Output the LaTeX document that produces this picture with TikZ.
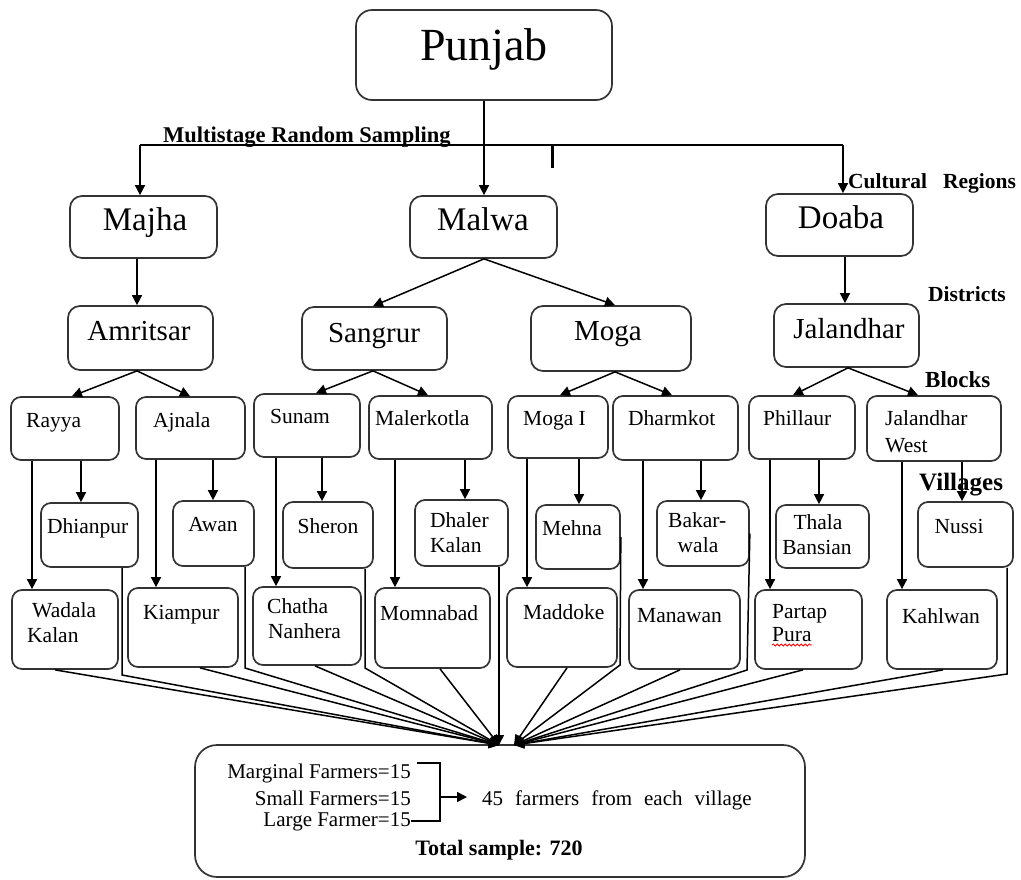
\documentclass[tikz,border=0pt]{standalone}
\usepackage{fontspec}
\setmainfont{Liberation Serif}
\usetikzlibrary{arrows.meta,fit,decorations.pathmorphing}
\newcommand{\fz}[1]{\fontsize{#1}{#1}\selectfont}
\begin{document}
\begin{tikzpicture}[x=1pt,y=-1pt,
  box/.style={draw=black!80, line width=1.7pt, rounded corners=10pt, inner sep=0pt, fill=white},
  arr/.style={line width=1.5pt, -{Triangle[length=10pt,width=10pt]}},
  ln/.style={line width=1.5pt},
  t/.style={inner sep=0pt, anchor=base west, font=\fz{21.5}},
  tc/.style={inner sep=0pt, anchor=base, font=\fz{21.5}},
  big/.style={inner sep=0pt, anchor=base, font=\fz{33}},
  mid/.style={inner sep=0pt, anchor=base, font=\fz{29}},
  lbl/.style={inner sep=0pt, anchor=base west, font=\fz{21.5}\bfseries}]
\useasboundingbox (0,0) rectangle (1021,879);

% ---------- boxes ----------
\node[box, rounded corners=16pt, fit={(356,10) (612,100)}] (punjab) {};
\node[box, rounded corners=12pt, fit={(70,196) (217,258)}] (majha) {};
\node[box, rounded corners=12pt, fit={(410,196) (557,258)}] (malwa) {};
\node[box, rounded corners=12pt, fit={(766,194) (913,256)}] (doaba) {};
\node[box, rounded corners=12pt, fit={(68,306) (213,370)}] (amritsar) {};
\node[box, rounded corners=12pt, fit={(302,307) (447,370)}] (sangrur) {};
\node[box, rounded corners=12pt, fit={(531,306) (691,371)}] (moga) {};
\node[box, rounded corners=12pt, fit={(774,304) (919,367)}] (jalandhar) {};

\node[box, fit={(11,397) (119,460)}] (rayya) {};
\node[box, fit={(136,397) (245,459)}] (ajnala) {};
\node[box, fit={(254,394) (360,457)}] (sunam) {};
\node[box, fit={(369,396) (492,459)}] (malerkotla) {};
\node[box, fit={(508,396) (608,458)}] (mogaI) {};
\node[box, fit={(613,396) (738,460)}] (dharmkot) {};
\node[box, fit={(749,396) (855,459)}] (phillaur) {};
\node[box, fit={(867,396) (1001,461)}] (jwest) {};

\node[box, fit={(41,503) (138,567)}] (dhianpur) {};
\node[box, fit={(173,501) (254,566)}] (awan) {};
\node[box, fit={(283,502) (373,568)}] (sheron) {};
\node[box, fit={(415,500) (508,566)}] (dhaler) {};
\node[box, fit={(536,505) (620,569)}] (mehna) {};
\node[box, fit={(657,501) (749,566)}] (bakarwala) {};
\node[box, fit={(776,505) (869,568)}] (thala) {};
\node[box, fit={(918,502) (1013,567)}] (nussi) {};

\node[box, fit={(12,590) (118,669)}] (wadala) {};
\node[box, fit={(128,588) (238,667)}] (kiampur) {};
\node[box, fit={(253,587) (361,665)}] (chatha) {};
\node[box, fit={(375,588) (490,668)}] (momnabad) {};
\node[box, fit={(507,588) (617,667)}] (maddoke) {};
\node[box, fit={(629,590) (740,669)}] (manawan) {};
\node[box, fit={(755,590) (862,669)}] (partap) {};
\node[box, fit={(887,590) (997,669)}] (kahlwan) {};

\node[box, rounded corners=22pt, fit={(195,745) (805,877)}] (sample) {};

% ---------- top connectors ----------
\coordinate (hl) at (140,145);
\coordinate (hr) at (843,145);
\draw[ln] (hl) -- (hr);
\draw[arr] (hl) -- (hl |- majha.north);
\draw[arr] (hr) -- (hr |- doaba.north);
\draw[arr] (punjab.south) -- (484,0 |- malwa.north);
\coordinate (tk1) at (552,145);
\coordinate (tk2) at (552,168);
\draw[line width=3pt] (tk1) -- (tk2);

\draw[arr] (137,0 |- majha.south) -- (137,0 |- amritsar.north);
\draw[arr] (845,0 |- doaba.south) -- (845,0 |- jalandhar.north);
\draw[arr] (484,0 |- malwa.south) -- (373,0 |- sangrur.north);
\draw[arr] (484,0 |- malwa.south) -- (615,0 |- moga.north);

\draw[arr] (137,0 |- amritsar.south) -- (72,0 |- rayya.north);
\draw[arr] (137,0 |- amritsar.south) -- (190,0 |- ajnala.north);
\draw[arr] (373,0 |- sangrur.south) -- (316,0 |- sunam.north);
\draw[arr] (373,0 |- sangrur.south) -- (428,0 |- malerkotla.north);
\draw[arr] (615,0 |- moga.south) -- (560,0 |- mogaI.north);
\draw[arr] (615,0 |- moga.south) -- (672,0 |- dharmkot.north);
\draw[arr] (848,0 |- jalandhar.south) -- (793,0 |- phillaur.north);
\draw[arr] (848,0 |- jalandhar.south) -- (918,0 |- jwest.north);

% ---------- blocks to villages ----------
\draw[arr] (32,0 |- rayya.south) -- (32,0 |- wadala.north);
\draw[arr] (81,0 |- rayya.south) -- (81,0 |- dhianpur.north);
\draw[arr] (156,0 |- ajnala.south) -- (156,0 |- kiampur.north);
\draw[arr] (213,0 |- ajnala.south) -- (213,0 |- awan.north);
\draw[arr] (276,0 |- sunam.south) -- (276,0 |- chatha.north);
\draw[arr] (322,0 |- sunam.south) -- (322,0 |- sheron.north);
\draw[arr] (395,0 |- malerkotla.south) -- (395,0 |- momnabad.north);
\draw[arr] (465,0 |- malerkotla.south) -- (465,0 |- dhaler.north);
\draw[arr] (527,0 |- mogaI.south) -- (527,0 |- maddoke.north);
\draw[arr] (579,0 |- mogaI.south) -- (579,0 |- mehna.north);
\draw[arr] (643,0 |- dharmkot.south) -- (643,0 |- manawan.north);
\draw[arr] (701,0 |- dharmkot.south) -- (701,0 |- bakarwala.north);
\draw[arr] (770,0 |- phillaur.south) -- (770,0 |- partap.north);
\draw[arr] (819,0 |- phillaur.south) -- (819,0 |- thala.north);
\draw[arr] (902,0 |- jwest.south) -- (902,0 |- kahlwan.north);
\draw[arr] (962,0 |- jwest.south) -- (962,0 |- nussi.north);

% ---------- villages to sample ----------
\coordinate (L) at (499,745);
\coordinate (R) at (514,745);
\draw[arr] (55,0 |- wadala.south) -- (L);
\draw[arr] (122,0 |- dhianpur.south) -- (122,675) -- (L);
\draw[arr] (200,0 |- kiampur.south) -- (L);
\draw[arr] (245,0 |- awan.south) -- (245,668) -- (L);
\draw[arr] (315,0 |- chatha.south) -- (L);
\draw[arr] (365,0 |- sheron.south) -- (365,668) -- (L);
\draw[arr] (440,0 |- momnabad.south) -- (L);
\draw[arr] (499,0 |- dhaler.south) -- (L);
\draw[arr] (567,0 |- maddoke.south) -- (R);
\draw[arr] (mehna.east) -- (620,665) -- (R);
\draw[arr] (680,0 |- manawan.south) -- (R);
\draw[arr] (bakarwala.east) -- (747,670) -- (R);
\draw[arr] (803,0 |- partap.south) -- (R);
\draw[arr] (943,0 |- kahlwan.south) -- (R);
\draw[arr] (1007,0 |- nussi.south) -- (1007,674) -- (R);

% ---------- texts ----------
\node[inner sep=0pt, anchor=base, font=\fz{46}] (punjab-t) at (484,60) {Punjab};
\node[big] (majha-t) at (145,230) {Majha};
\node[big] (malwa-t) at (483,230) {Malwa};
\node[big] (doaba-t) at (841,228) {Doaba};
\node[mid] (amritsar-t) at (139,340) {Amritsar};
\node[mid] (sangrur-t) at (374,342) {Sangrur};
\node[mid] (moga-t) at (608,340) {Moga};
\node[mid] (jalandhar-t) at (849,338) {Jalandhar};

\node[t] (rayya-t) at (26,427) {Rayya};
\node[t] (ajnala-t) at (153,427) {Ajnala};
\node[t] (sunam-t) at (270,423) {Sunam};
\node[t] (malerkotla-t) at (375,425) {Malerkotla};
\node[t] (mogaI-t) at (523,425) {Moga I};
\node[t] (dharmkot-t) at (628,425) {Dharmkot};
\node[t] (phillaur-t) at (763,425) {Phillaur};
\node[t] (jwest-t1) at (885,425) {Jalandhar};
\node[t] (jwest-t2) at (885,452) {West};

\node[t] (dhianpur-t) at (47,533) {Dhianpur};
\node[tc] (awan-t) at (213,531) {Awan};
\node[tc] (sheron-t) at (328,533) {Sheron};
\node[t] (dhaler-t1) at (430,527) {Dhaler};
\node[t] (dhaler-t2) at (430,552) {Kalan};
\node[t] (mehna-t) at (542,535) {Mehna};
\node[t] (bakar-t1) at (668,527) {Bakar-};
\node[tc] (bakar-t2) at (698,552) {wala};
\node[tc] (thala-t1) at (818,529) {Thala};
\node[tc] (thala-t2) at (817,554) {Bansian};
\node[tc] (nussi-t) at (959,533) {Nussi};

\node[t] (wadala-t1) at (32,617) {Wadala};
\node[t] (wadala-t2) at (27,642) {Kalan};
\node[t] (kiampur-t) at (143,619) {Kiampur};
\node[t] (chatha-t1) at (267,613) {Chatha};
\node[t] (chatha-t2) at (268,638) {Nanhera};
\node[t] (momnabad-t) at (380,620) {Momnabad};
\node[t] (maddoke-t) at (523,619) {Maddoke};
\node[t] (manawan-t) at (637,622) {Manawan};
\node[t] (partap-t1) at (772,618) {Partap};
\node[t] (partap-t2) at (772,641) {Pura};
\draw[red, line width=0.8pt, decorate, decoration={snake, amplitude=1pt, segment length=4pt}]
  ([yshift=-4pt]partap-t2.base west) -- ([yshift=-4pt]partap-t2.base east);
\node[t] (kahlwan-t) at (902,623) {Kahlwan};

% ---------- stage labels ----------
\node[lbl, font=\fz{22.5}\bfseries] (lab-msr) at (163,142) {Multistage Random Sampling};
\node[lbl] (lab-cr) at (848,188) {Cultural\hspace{16pt}Regions};
\node[lbl] (lab-d) at (928,301) {Districts};
\node[lbl, font=\fz{23}\bfseries] (lab-b) at (925,387) {Blocks};
\node[lbl, font=\fz{25}\bfseries] (lab-v) at (919,490) {Villages};

% ---------- sample box ----------
\node[inner sep=0pt, anchor=base east, font=\fz{21}] (marg) at (411,778) {Marginal Farmers=15};
\node[inner sep=0pt, anchor=base east, font=\fz{21}] (small) at (411,805) {Small Farmers=15};
\node[inner sep=0pt, anchor=base east, font=\fz{21}] (large) at (411,826) {Large Farmer=15};
\coordinate (bt) at (440,763);
\coordinate (bb) at (440,821);
\draw[ln] (417,0 |- bt) -- (bt) -- (bb) -- (large.east |- bb);
\node[inner sep=0pt, anchor=base west, font=\fz{21}] (each) at (482,805)
  {45\hspace{12pt}farmers\hspace{12pt}from\hspace{12pt}each\hspace{12pt}village};
\coordinate (brk) at (440,797);
\draw[arr] (brk) -- ([xshift=-15pt]each.west |- brk);
\node[inner sep=0pt, anchor=base, font=\fz{22}\bfseries] (total) at (499,855) {Total sample: 720};
\end{tikzpicture}
\end{document}
